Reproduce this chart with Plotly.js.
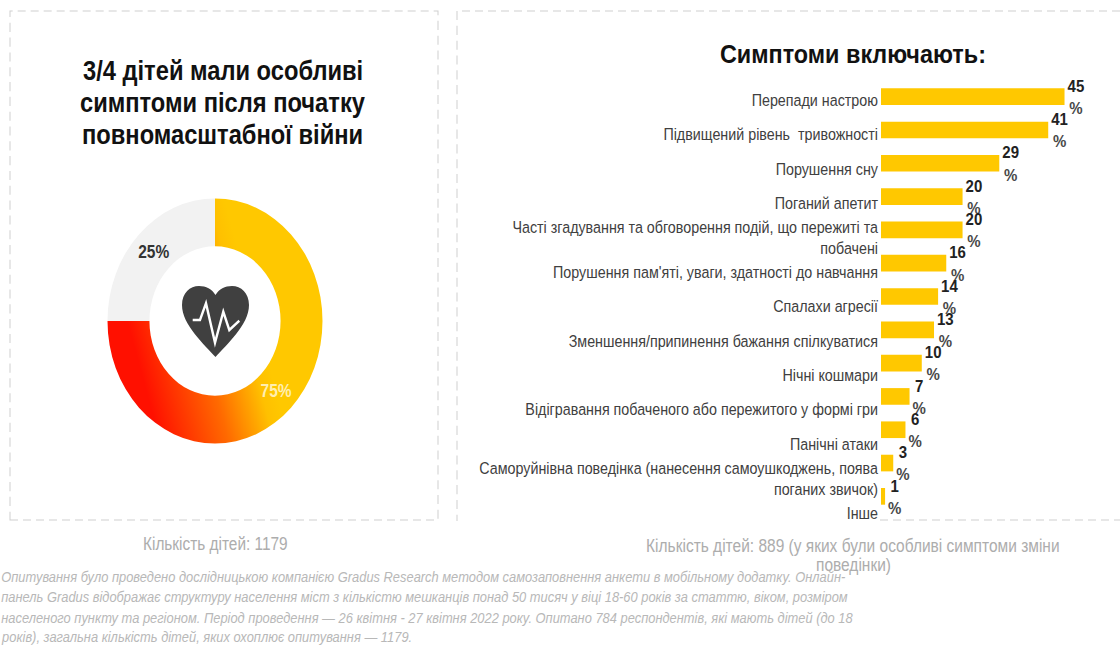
<!DOCTYPE html>
<html lang="uk">
<head>
<meta charset="utf-8">
<script src="https://cdn.plot.ly/plotly-3.0.1.min.js"></script>
<style>
  html, body { margin: 0; padding: 0; background: #fff; overflow: hidden; width: 1120px; height: 645px; }
  #chart { width: 1120px; height: 566px; transform: scaleY(1.1396); transform-origin: 0 0; }
</style>
</head>
<body>
<div id="chart"></div>
<script>
// Survey results: share of children with symptoms, and the symptom breakdown
const shareLabels = ['Мали симптоми', 'Не мали симптомів'];
const shareValues = [75, 25];
const symptoms = [
  'Перепади настрою',
  'Підвищений рівень  тривожності',
  'Порушення сну',
  'Поганий апетит',
  'Часті згадування та обговорення подій, що пережиті та<br>побачені',
  "Порушення пам'яті, уваги, здатності до навчання",
  'Спалахи агресії',
  'Зменшення/припинення бажання спілкуватися',
  'Нічні кошмари',
  'Відігравання побаченого або пережитого у формі гри',
  'Панічні атаки',
  'Саморуйнівна поведінка (нанесення самоушкоджень, поява<br>поганих звичок)',
  'Інше'
];
const symptomValues = [45, 41, 29, 20, 20, 16, 14, 13, 10, 7, 6, 3, 1];
const titleLeftLines = ['3/4 дітей мали особливі', 'симптоми після початку', 'повномасштабної війни'];
const titleRight = 'Симптоми включають:';
const noteLeft = 'Кількість дітей: 1179';
const noteRightLines = ['Кількість дітей: 889 (у яких були особливі симптоми зміни', 'поведінки)'];
const footnoteLines = [
  'Опитування було проведено дослідницькою компанією Gradus Research методом самозаповнення анкети в мобільному додатку. Онлайн-',
  'панель Gradus відображає структуру населення міст з кількістю мешканців понад 50 тисяч у віці 18-60 років за статтю, віком, розміром',
  'населеного пункту та регіоном. Період проведення — 26 квітня - 27 квітня 2022 року. Опитано 784 респондентів, які мають дітей (до 18',
  'років), загальна кількість дітей, яких охоплює опитування — 1179.'
];

// Page coordinates to paper fractions; the graph fills the page in both directions
const W = 1120, H = 645;
const fx = x => x / W;
const fy = y => 1 - y / H;
const path = (pts, close) => pts.map(s => {
  const [c, ...n] = s.trim().split(/\s+/);
  const out = [];
  for (let i = 0; i < n.length; i += 2) out.push(fx(+n[i]) + ',' + fy(+n[i + 1]));
  return c + out.join(' ');
}).join(' ') + (close ? ' Z' : '');

const FONT = '"Liberation Sans", Arial, sans-serif';
const DASH = { color: '#cfcfcf', width: 1, dash: '8px,5px' };

const traces = [
  {
    type: 'pie', labels: shareLabels, values: shareValues, hole: 0.61, sort: false,
    direction: 'clockwise', rotation: 0,
    domain: { x: [fx(107.5), fx(322.5)], y: [fy(443.5), fy(198.5)] },
    marker: { colors: ['#ffc800', '#f2f2f2'], line: { width: 0 } },
    texttemplate: '%{value}%', textposition: 'inside', insidetextorientation: 'horizontal',
    insidetextfont: { family: FONT, size: 15.5, color: ['#ffeeb0', '#333333'], weight: 700 },
    showlegend: false, hoverinfo: 'label+percent'
  },
  {
    type: 'bar', orientation: 'h', x: symptomValues, y: symptoms, xaxis: 'x', yaxis: 'y',
    marker: { color: '#ffc800' }, width: 0.5,
    text: symptomValues.map(v => '<b>' + v + '</b><br><b><span style="color:#484848">%</span></b>'),
    textposition: 'outside', cliponaxis: false, constraintext: 'none',
    textfont: { family: FONT, size: 15, color: '#222222' },
    showlegend: false, hovertemplate: '%{y}: %{x}%<extra></extra>'
  },
  // Empty companion trace that carries the category captions on their own, looser axis
  {
    type: 'bar', orientation: 'h', x: symptomValues.map(() => 0), y: symptoms, xaxis: 'x', yaxis: 'y2',
    marker: { color: 'rgba(0,0,0,0)' }, showlegend: false, hoverinfo: 'skip'
  }
];

const annotations = titleLeftLines.map((t, i) => ({
  text: '<b>' + t + '</b>', x: fx(223), y: fy([71, 103, 134][i]), font: { size: 23.7, color: '#111111' }
})).concat([
  { text: '<b>' + titleRight + '</b>', x: fx(852.5), y: fy(53), font: { size: 23.4, color: '#111111' } },
  { text: noteLeft, x: fx(215.5), y: fy(544), font: { size: 15.4, color: '#adadad' } },
  { text: noteRightLines[0], x: fx(853), y: fy(545), font: { size: 15.5, color: '#adadad' } },
  { text: noteRightLines[1], x: fx(853), y: fy(565), font: { size: 15.5, color: '#adadad' } }
]).concat(footnoteLines.map((t, i) => ({
  text: '<i>' + t + '</i>', x: 0, xanchor: 'left', y: fy([577, 597, 618, 637][i]),
  font: { size: 12.9, color: '#b8b8b8' }
}))).map(a => Object.assign({
  xref: 'paper', yref: 'paper', showarrow: false, xanchor: 'center', yanchor: 'middle', borderpad: 0, align: 'center'
}, a, { font: Object.assign({ family: FONT }, a.font) }));

const shapes = [
  { type: 'rect', xref: 'paper', yref: 'paper', x0: fx(10), x1: fx(438), y0: fy(520), y1: fy(11), line: DASH },
  { type: 'path', xref: 'paper', yref: 'paper', line: DASH,
    path: path(['M 1120 11', 'L 457 11', 'L 457 521']) },
  { type: 'path', xref: 'paper', yref: 'paper', line: DASH,
    path: path(['M 880 520', 'L 1120 520']) },
  // Heart icon in the middle of the ring
  { type: 'path', xref: 'paper', yref: 'paper', fillcolor: '#404040', line: { width: 0 },
    path: path([
      'M 215.5 357',
      'C 205 345 182 325 182 305',
      'C 182 293 190 286 199 286',
      'C 206 286 212 289 215.5 295',
      'C 219 289 225 286 232 286',
      'C 241 286 249 293 249 305',
      'C 249 325 226 345 215.5 357'
    ], true) },
  { type: 'path', xref: 'paper', yref: 'paper', line: { color: '#ffffff', width: 2.4 },
    path: path([
      'M 192.7 320', 'L 200 320', 'L 206 303.3', 'L 215 342.7',
      'L 223.3 311.7', 'L 229.3 330', 'L 239.3 320.7'
    ]) }
];

const layout = {
  width: 1120, height: 566,
  margin: { l: 0, r: 0, t: 0, b: 0, pad: 0 },
  paper_bgcolor: '#ffffff', plot_bgcolor: 'rgba(0,0,0,0)',
  font: { family: FONT },
  showlegend: false,
  xaxis: { domain: [fx(881), 1], range: [0, 58.6], visible: false, fixedrange: true },
  yaxis: {
    domain: [fy(513), fy(80)], autorange: 'reversed', type: 'category', anchor: 'x',
    showticklabels: false, showgrid: false, zeroline: false, showline: false, ticks: '', fixedrange: true
  },
  yaxis2: {
    domain: [fy(530), fy(83)], autorange: 'reversed', type: 'category', anchor: 'x',
    showticklabels: true, showgrid: false, zeroline: false, showline: false, ticks: '',
    ticklabelstandoff: 2, tickfont: { family: FONT, size: 14.3, color: '#404040' }, fixedrange: true
  },
  bargap: 0.5,
  annotations, shapes
};

Plotly.newPlot('chart', traces, layout, { displayModeBar: false, staticPlot: true }).then(gd => {
  // Warm red-to-amber sweep on the larger ring segment
  const NS = 'http://www.w3.org/2000/svg';
  const svg = gd.querySelector('.main-svg');
  const defs = svg.querySelector('defs') || svg.insertBefore(document.createElementNS(NS, 'defs'), svg.firstChild);
  const grad = document.createElementNS(NS, 'linearGradient');
  grad.setAttribute('id', 'ringSweep');
  [['x1', '0.2'], ['y1', '0.85'], ['x2', '0.85'], ['y2', '0.65']].forEach(([k, v]) => grad.setAttribute(k, v));
  [['0', '#ff1000'], ['0.45', '#ff6a00'], ['0.75', '#ffc000'], ['0.85', '#ffc800'], ['1', '#ffc800']].forEach(([o, c]) => {
    const s = document.createElementNS(NS, 'stop');
    s.setAttribute('offset', o);
    s.setAttribute('stop-color', c);
    grad.appendChild(s);
  });
  defs.appendChild(grad);
  const slice = gd.querySelector('.pielayer .slice path.surface');
  if (slice) slice.style.fill = 'url(#ringSweep)';
});
</script>
</body>
</html>
